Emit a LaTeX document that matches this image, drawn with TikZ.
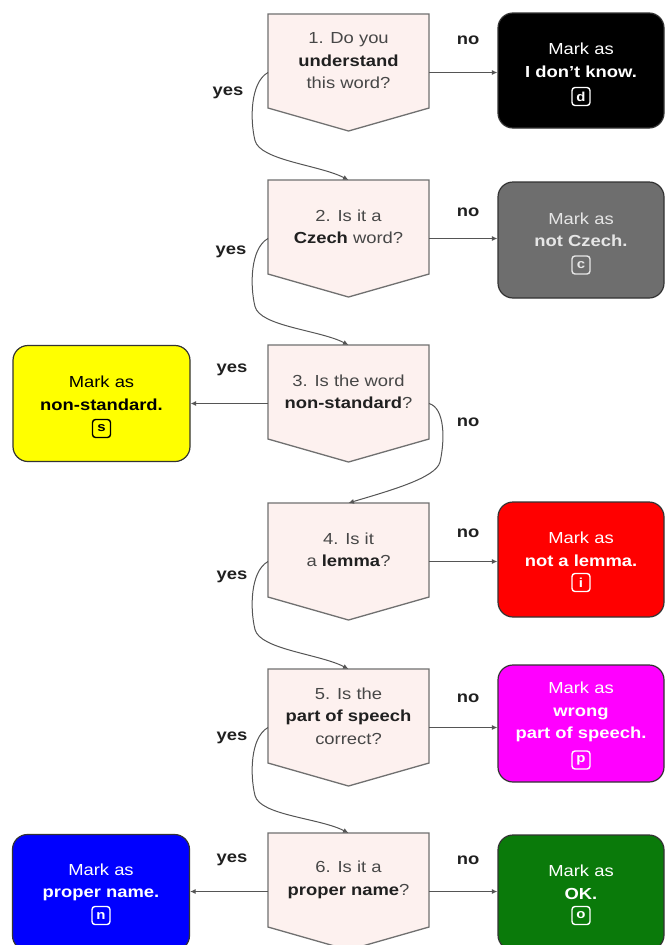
\documentclass[tikz,border=0pt]{standalone}
\usepackage{fontspec}
\setmainfont{Liberation Sans}[FakeStretch=1.15]
\usetikzlibrary{arrows.meta,calc}
\definecolor{qfill}{HTML}{FDF1EF}
\definecolor{qborder}{HTML}{707070}
\definecolor{rborder}{HTML}{333333}
\definecolor{conncol}{HTML}{555555}
\definecolor{qtxt}{HTML}{474747}
\definecolor{qbold}{HTML}{202020}
\definecolor{boxgray}{HTML}{6E6E6E}
\definecolor{boxgreen}{HTML}{0A7A0A}
\definecolor{boxyellow}{HTML}{FFFF00}
\definecolor{boxred}{HTML}{FF0000}
\definecolor{boxmagenta}{HTML}{FF00FF}
\definecolor{boxblue}{HTML}{0000FF}
\definecolor{lightgray}{HTML}{E6E6E6}
\newcommand\yescurve[2]{%
  \draw[conn] (#1.west) .. controls ($(#1.west)+(-18,-10)$) and ($(#1.west)+(-18,-48)$) ..
    ($(#1.west)+(-13,-68)$) .. controls ($(#1.west)+(-8,-88)$) and ($(#2.north)+(-29,15)$) .. (#2.north);}
\newcommand\pentagon[1]{%
  \filldraw[qline] (#1.north west) -- (#1.north east) -- ([yshift=23pt]#1.south east)
    -- (#1.south) -- ([yshift=23pt]#1.south west) -- cycle;}
\begin{document}
\begin{tikzpicture}[x=1pt,y=1pt,
  qshape/.style={minimum width=161pt,minimum height=117pt,inner sep=0pt,outer sep=0pt},
  qline/.style={fill=qfill,draw=qborder,line width=1.3pt},
  qtext/.style={align=center,text=qtxt,font=\fontsize{16}{22.5}\selectfont,inner sep=0pt},
  rbox/.style={draw=rborder,line width=1.2pt,rounded corners=15pt,minimum width=166pt,minimum height=115pt,inner sep=0pt},
  lbox/.style={draw=rborder,line width=1.2pt,rounded corners=15pt,minimum width=177pt,minimum height=116pt,inner sep=0pt},
  rtext/.style={align=center,font=\fontsize{16}{22.5}\selectfont,inner sep=0pt},
  kcap/.style={draw,line width=1.4pt,rounded corners=3pt,minimum size=18pt,inner sep=0pt,font=\fontsize{13}{13}\selectfont\bfseries},
  lbl/.style={font=\fontsize{16}{18}\selectfont\bfseries,text=qbold,inner sep=0pt},
  conn/.style={draw=conncol,line width=1pt,-{Latex[length=5.5pt,width=5pt]}}]
\useasboundingbox (0,0) rectangle (665,-945);
\clip (0,0) rectangle (665,-945);
\fill[white] (0,0) rectangle (665,-945);

% question shapes
\node[qshape] (q1) at (348.5,-72.5) {};
\node[qshape] (q2) at (348.5,-238.5) {};
\node[qshape] (q3) at (348.5,-403.5) {};
\node[qshape] (q4) at (348.5,-561.5) {};
\node[qshape] (q5) at (348.5,-727.5) {};
\node[qshape] (q6) at (348.5,-891.5) {};
\pentagon{q1}\pentagon{q2}\pentagon{q3}\pentagon{q4}\pentagon{q5}\pentagon{q6}

\node[qtext] (q1t) at ([yshift=11.5pt]q1.center) {1. Do you\\\textcolor{qbold}{\textbf{understand}}\\this word?};
\node[qtext] (q2t) at ([yshift=11.5pt]q2.center) {2. Is it a\\\textcolor{qbold}{\textbf{Czech}} word?};
\node[qtext] (q3t) at ([yshift=11.5pt]q3.center) {3. Is the word\\\textcolor{qbold}{\textbf{non-standard}}?};
\node[qtext] (q4t) at ([yshift=11.5pt]q4.center) {4. Is it\\a \textcolor{qbold}{\textbf{lemma}}?};
\node[qtext] (q5t) at ([yshift=11.5pt]q5.center) {5. Is the\\\textcolor{qbold}{\textbf{part of speech}}\\correct?};
\node[qtext] (q6t) at ([yshift=11.5pt]q6.center) {6. Is it a\\\textcolor{qbold}{\textbf{proper name}}?};

% result boxes
\node[rbox,fill=black] (r1) at (581,-70.5) {};
\node[rtext,text=white] (r1t) at ([yshift=10pt]r1.center) {Mark as\\\textbf{I don't know.}};
\node[kcap,draw=white,text=white] (r1k) at ([yshift=-26pt]r1.center) {d};

\node[rbox,fill=boxgray,minimum height=116pt] (r2) at (581,-240) {};
\node[rtext,text=lightgray] (r2t) at ([yshift=10pt]r2.center) {Mark as\\\textbf{not Czech.}};
\node[kcap,draw=lightgray,text=lightgray] (r2k) at ([yshift=-25pt]r2.center) {c};

\node[lbox,fill=boxyellow] (l3) at (101.5,-403.5) {};
\node[rtext,text=black] (l3t) at ([yshift=10pt]l3.center) {Mark as\\\textbf{non-standard.}};
\node[kcap,draw=black,text=black] (l3k) at ([yshift=-25pt]l3.center) {s};

\node[rbox,fill=boxred] (r4) at (581,-559.5) {};
\node[rtext,text=white] (r4t) at ([yshift=10pt]r4.center) {Mark as\\\textbf{not a lemma.}};
\node[kcap,draw=white,text=white] (r4k) at ([yshift=-23pt]r4.center) {i};

\node[rbox,fill=boxmagenta,minimum height=117pt] (r5) at (581,-723.5) {};
\node[rtext,text=white] (r5t) at ([yshift=11.5pt]r5.center) {Mark as\\\textbf{wrong}\\\textbf{part of speech.}};
\node[kcap,draw=white,text=white] (r5k) at ([yshift=-36.5pt]r5.center) {p};

\node[lbox,fill=boxblue] (l6) at (101,-892.5) {};
\node[rtext,text=white] (l6t) at ([yshift=10pt]l6.center) {Mark as\\\textbf{proper name.}};
\node[kcap,draw=white,text=white] (l6k) at ([yshift=-23pt]l6.center) {n};

\node[rbox,fill=boxgreen] (r6) at (581,-892.5) {};
\node[rtext,text=white] (r6t) at ([yshift=10pt]r6.center) {Mark as\\\textbf{OK.}};
\node[kcap,draw=white,text=white] (r6k) at ([yshift=-23pt]r6.center) {o};

% connectors
\draw[conn] (q1.east) -- (q1.east -| r1.west);
\draw[conn] (q2.east) -- (q2.east -| r2.west);
\draw[conn] (q3.west) -- (q3.west -| l3.east);
\draw[conn] (q4.east) -- (q4.east -| r4.west);
\draw[conn] (q5.east) -- (q5.east -| r5.west);
\draw[conn] (q6.east) -- (q6.east -| r6.west);
\draw[conn] (q6.west) -- (q6.west -| l6.east);
\yescurve{q1}{q2}
\yescurve{q2}{q3}
\yescurve{q4}{q5}
\yescurve{q5}{q6}
\draw[conn] (q3.east) .. controls ($(q3.east)+(16,-4.5)$) and ($(q3.east)+(16,-36.5)$) ..
  ($(q3.east)+(11,-58.5)$) .. controls ($(q3.east)+(7,-74.5)$) and ($(q4.north)+(40,12)$) .. (q4.north);

% labels
\node[lbl] (n1) at (468,-40) {no};
\node[lbl] (n2) at (468,-212) {no};
\node[lbl] (n3) at (468,-422) {no};
\node[lbl] (n4) at (468,-533) {no};
\node[lbl] (n5) at (468,-698) {no};
\node[lbl] (n6) at (468,-860) {no};
\node[lbl] (y1) at (228,-93) {yes};
\node[lbl] (y2) at (231,-252) {yes};
\node[lbl] (y3) at (232,-370) {yes};
\node[lbl] (y4) at (232,-577) {yes};
\node[lbl] (y5) at (232,-738) {yes};
\node[lbl] (y6) at (232,-860) {yes};
\end{tikzpicture}
\end{document}
